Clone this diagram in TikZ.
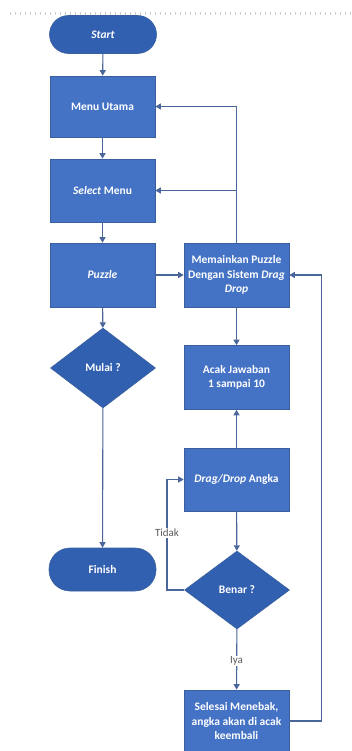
\documentclass[tikz,border=0pt]{standalone}
\usepackage{fontspec}
\setmainfont{Carlito}
\usetikzlibrary{shapes.geometric,arrows.meta}
\definecolor{boxblue}{HTML}{4472C4}
\definecolor{darkblue}{HTML}{3160B0}
\definecolor{boxedge}{HTML}{3A5F9E}
\definecolor{linec}{HTML}{4A669A}
\definecolor{labelc}{HTML}{5A5A5A}
\begin{document}
\begin{tikzpicture}[x=1pt,y=-1pt,
  base/.style={draw=boxedge, line width=0.6pt, text=white,
    font=\fontsize{11.5}{14.5}\selectfont\bfseries, align=center, inner sep=0pt},
  procbox/.style={base, rectangle, fill=boxblue, minimum width=105pt},
  term/.style={base, rectangle, rounded corners=19pt, fill=darkblue},
  decision/.style={base, diamond, fill=darkblue, aspect=1.3, minimum width=105pt},
  arr/.style={draw=linec, line width=1.1pt, -{Triangle[length=5.5pt,width=6pt]}},
  plain/.style={draw=linec, line width=1.1pt},
  lbl/.style={fill=white, text=labelc, font=\fontsize{11}{13}\selectfont, inner sep=1pt}
]
\useasboundingbox (0,0) rectangle (352,751);
\draw[gray!40, line width=3pt, dash pattern=on 0.8pt off 4.2pt] (10,14) -- (352,14);

% left column
\node[term, minimum width=107pt, minimum height=38pt] (start) at (103,34.5) {\itshape Start};
\node[procbox, minimum height=61pt] (menu) at (102.5,106.5) {Menu Utama};
\node[procbox, minimum height=63pt] (select) at (102.5,190.5) {\itshape Select\upshape{} Menu};
\node[procbox, minimum height=64pt] (puzzle) at (102.5,275) {\itshape Puzzle};
\node[decision, minimum height=80pt] (mulai) at (103,368) {Mulai ?};
\node[term, minimum width=107pt, minimum height=43pt, rounded corners=21pt] (finish) at (102.5,569.5) {Finish};

% right column
\node[procbox, minimum height=64pt] (main) at (236.5,275) {Memainkan Puzzle\\Dengan Sistem \textit{Drag}\\\textit{Drop}};
\node[procbox, minimum height=64pt] (acak) at (236.5,377.5) {Acak Jawaban\\1 sampai 10};
\node[procbox, minimum height=63pt] (drag) at (236.5,479.5) {\textit{Drag/Drop} Angka};
\node[decision, minimum height=78pt] (benar) at (237,590) {Benar ?};
\node[procbox, minimum height=62pt] (selesai) at (236.5,721) {Selesai Menebak,\\angka akan di acak\\keembali};

\coordinate (tidakc) at (167,590);
\coordinate (loopc) at (321.5,721);

% connectors
\draw[arr] (start) -- (menu);
\draw[arr] (menu) -- (select);
\draw[arr] (select) -- (puzzle);
\draw[arr] (puzzle) -- (mulai);
\draw[arr] (mulai) -- (finish);
\draw[arr] (puzzle) -- (main);
\draw[arr] (main.north) |- (menu.east);
\draw[arr] (main.north |- select.east) -- (select.east);
\draw[arr] (main) -- (acak);
\draw[arr] (drag) -- (acak);
\draw[arr] (drag) -- (benar);
\draw[arr] (benar.west) -- (tidakc) |- (drag.west);
\node[lbl] (tidak) at (167,533) {Tidak};
\draw[arr] (benar) -- (selesai);
\node[lbl] (iya) at (236.5,661) {Iya};
\draw[arr] (selesai.east) -- (loopc) |- (main.east);
\end{tikzpicture}
\end{document}
